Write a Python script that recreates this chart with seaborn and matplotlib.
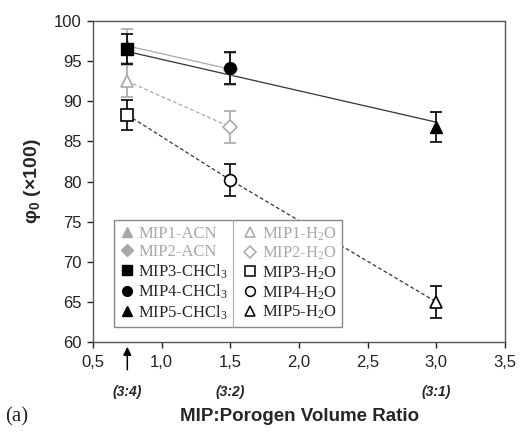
import numpy as np
import matplotlib
matplotlib.use("Agg")
import matplotlib.pyplot as plt
from matplotlib.lines import Line2D
import seaborn as sns

# ---- data ----
acn_x = [0.75, 1.5]
acn_y = [96.9, 94.0]
acn_err = [2.1, 2.0]

chcl3_x = [0.75, 1.5, 3.0]
chcl3_y = [96.5, 94.1, 86.8]
chcl3_err = [1.9, 2.0, 1.9]
chcl3_trend_x = [0.75, 3.0]
chcl3_trend_y = [96.2, 87.4]

h2o_gray_x = [0.75, 1.5]
h2o_gray_y = [92.5, 86.8]
h2o_gray_err = [2.0, 2.0]

h2o_x = [0.75, 1.5, 3.0]
h2o_y = [88.3, 80.2, 65.0]
h2o_err = [1.9, 2.0, 1.95]

xticks = [0.5, 1.0, 1.5, 2.0, 2.5, 3.0, 3.5]
xtick_labels = ["0,5", "1,0", "1,5", "2,0", "2,5", "3,0", "3,5"]
yticks = [60, 65, 70, 75, 80, 85, 90, 95, 100]
ratio_x = [0.75, 1.5, 3.0]
ratio_labels = ["(3:4)", "(3:2)", "(3:1)"]

acn_markers = ["^", "D"]
chcl3_markers = ["s", "o", "^"]

GRAY = "#a8a8a8"

sns.set_style("ticks")
plt.rcParams["font.family"] = ["Liberation Sans", "DejaVu Sans"]
plt.rcParams["mathtext.fontset"] = "custom"
plt.rcParams["mathtext.rm"] = "Liberation Serif"
plt.rcParams["mathtext.bf"] = "Liberation Sans:bold"
plt.rcParams["mathtext.it"] = "Liberation Sans:italic"

fig = plt.figure(figsize=(5.21, 4.38), dpi=100)
ax = fig.add_axes([0.1785, 0.219, 0.7905, 0.733])

# lines
sns.lineplot(x=acn_x, y=acn_y, color=GRAY, lw=0.9, ax=ax)
sns.lineplot(x=h2o_gray_x, y=h2o_gray_y, color=GRAY, lw=0.9, ls=(0, (3, 2)), ax=ax)
sns.lineplot(x=chcl3_trend_x, y=chcl3_trend_y, color="#333333", lw=0.9, ax=ax)
sns.lineplot(x=h2o_x, y=h2o_y, color="#333333", lw=0.9, ls=(0, (3, 2)), ax=ax)

ms = 8.5
cap = 4.5

# gray ACN (filled) and gray H2O (open)
for xv, yv, ev, m in zip(acn_x, acn_y, acn_err, acn_markers):
    ax.errorbar(xv, yv, yerr=ev, fmt="none", ecolor=GRAY, capsize=cap, elinewidth=1.2, capthick=1.2)
    ax.plot(xv, yv, marker=m, ms=ms if m != "D" else ms - 1.5, color=GRAY, mec=GRAY, ls="none")
for xv, yv, ev, m in zip(h2o_gray_x, h2o_gray_y, h2o_gray_err, acn_markers):
    ax.errorbar(xv, yv, yerr=ev, fmt="none", ecolor=GRAY, capsize=cap, elinewidth=1.2, capthick=1.2)
    ax.plot(xv, yv, marker=m, ms=ms if m != "D" else ms - 1.5, mfc="white", mec=GRAY, mew=1.2, ls="none")

# black CHCl3 (filled) and black H2O (open)
for xv, yv, ev, m in zip(chcl3_x, chcl3_y, chcl3_err, chcl3_markers):
    ax.errorbar(xv, yv, yerr=ev, fmt="none", ecolor="black", capsize=cap, elinewidth=1.2, capthick=1.2)
    ax.plot(xv, yv, marker=m, ms=ms, color="black", ls="none")
for xv, yv, ev, m in zip(h2o_x, h2o_y, h2o_err, chcl3_markers):
    ax.errorbar(xv, yv, yerr=ev, fmt="none", ecolor="black", capsize=cap, elinewidth=1.2, capthick=1.2)
    ax.plot(xv, yv, marker=m, ms=ms, mfc="white", mec="black", mew=1.2, ls="none")

ax.set_xlim(0.5, 3.5)
ax.set_ylim(60, 100)
ax.set_xticks(xticks)
ax.set_xticklabels(xtick_labels)
ax.set_yticks(yticks)
ax.tick_params(direction="out", length=4.5, width=1, labelsize=12, colors="#222222")
ax.tick_params(axis="x", pad=5)
for s in ax.spines.values():
    s.set_visible(True)
    s.set_color("#555555")
    s.set_linewidth(1.0)

ax.set_ylabel(r"φ$_\mathbf{0}$ (×100)", fontsize=14, fontweight="bold", labelpad=8)
fig.text(0.575, 0.048, "MIP:Porogen Volume Ratio", ha="center", va="center",
         fontsize=13.5, fontweight="bold")
fig.text(0.01, 0.048, "(a)", ha="left", va="center", fontsize=15,
         family=["Liberation Serif", "DejaVu Serif"])

# ratio labels and arrow
for xv, lab in zip(ratio_x, ratio_labels):
    ax.text(xv, -0.156, lab, transform=ax.get_xaxis_transform(), ha="center", va="center",
            fontsize=10, fontweight="bold", style="italic")
ax.annotate("", xy=(ratio_x[0], -0.006), xytext=(ratio_x[0], -0.095),
            xycoords=ax.get_xaxis_transform(), textcoords=ax.get_xaxis_transform(),
            arrowprops=dict(arrowstyle="-|>", color="black", lw=1.1, mutation_scale=12),
            annotation_clip=False)

# legend
labels = ["MIP1-ACN", "MIP2-ACN", r"MIP3-CHCl$_\mathregular{3}$", r"MIP4-CHCl$_\mathregular{3}$",
          r"MIP5-CHCl$_\mathregular{3}$", r"MIP1-H$_\mathregular{2}$O", r"MIP2-H$_\mathregular{2}$O",
          r"MIP3-H$_\mathregular{2}$O", r"MIP4-H$_\mathregular{2}$O", r"MIP5-H$_\mathregular{2}$O"]
handles = []
for m in acn_markers:
    handles.append(Line2D([], [], marker=m, color=GRAY, ls="none", ms=7 if m != "D" else 6))
for m in chcl3_markers:
    handles.append(Line2D([], [], marker=m, color="black", ls="none", ms=7))
for m in acn_markers:
    handles.append(Line2D([], [], marker=m, mfc="white", mec=GRAY, mew=1.1, ls="none", ms=7 if m != "D" else 6))
for m in chcl3_markers:
    handles.append(Line2D([], [], marker=m, mfc="white", mec="black", mew=1.1, ls="none", ms=7))

leg = ax.legend(handles, labels, ncol=2, loc="lower left", bbox_to_anchor=(0.051, 0.047),
                prop={"family": "Liberation Serif", "size": 12}, frameon=True, fancybox=False,
                edgecolor="#888888", framealpha=1, borderpad=0.3, labelspacing=0.12,
                handletextpad=0.25, handlelength=0.9, columnspacing=0.9, borderaxespad=0)
leg.get_frame().set_linewidth(1.0)
for i, t in enumerate(leg.get_texts()):
    if i in (0, 1, 5, 6):
        t.set_color(GRAY)

# divider between the two legend columns
fig.canvas.draw()
bb = leg.get_window_extent()
t0 = leg.get_texts()[2].get_window_extent()
xdiv = t0.x1 + 5
inv = ax.transAxes.inverted()
(xa, ya0) = inv.transform((xdiv, bb.y0))
(_, ya1) = inv.transform((xdiv, bb.y1))
ax.plot([xa, xa], [ya0, ya1], transform=ax.transAxes, color="#aaaaaa", lw=0.8, zorder=10,
        clip_on=False)

fig.savefig("out.png", dpi=100)
